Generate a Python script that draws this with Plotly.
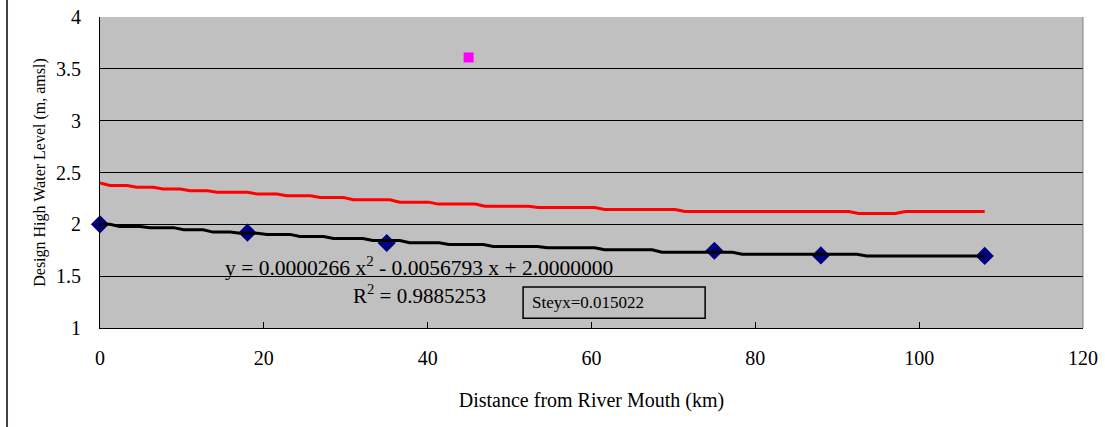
import plotly.graph_objects as go

# ---- data ----
obs_km = [0, 18, 35, 75, 88, 108]
obs_level = [2.00, 1.92, 1.82, 1.745, 1.70, 1.695]

fit_step_km = [1.8, 5.5, 9.6, 13.2, 16.5, 19.8, 23.8, 27.9, 32.7, 37.2, 42.0, 47.4, 54.0, 61.0, 68.0, 77.8, 93.0]
fit_levels = [2.00, 1.98, 1.968, 1.948, 1.925, 1.914, 1.903, 1.883, 1.864, 1.844, 1.822, 1.805, 1.786, 1.774, 1.754, 1.730, 1.711, 1.695]
fit_end_km = 108

dhwl_step_km = [0.6, 3.9, 7.1, 10.4, 13.7, 18.6, 22.2, 26.3, 30.3, 36.0, 40.7, 46.4, 52.9, 61.0, 70.8, 92.0, 97.7]
dhwl_levels = [2.40, 2.375, 2.357, 2.341, 2.324, 2.309, 2.292, 2.276, 2.260, 2.237, 2.214, 2.195, 2.175, 2.162, 2.143, 2.124, 2.104, 2.124]
dhwl_end_km = 108

single_km = [45]
single_level = [3.61]

x_ticks = [0, 20, 40, 60, 80, 100, 120]
y_ticks = [1, 1.5, 2, 2.5, 3, 3.5, 4]


def stepped(steps, levels, end, half=0.6):
    xs, ys = [0], [levels[0]]
    for i, s in enumerate(steps):
        xs += [max(s - half, 0), s + half]
        ys += [levels[i], levels[i + 1]]
    xs.append(end)
    ys.append(levels[-1])
    return xs, ys


fx, fy = stepped(fit_step_km, fit_levels, fit_end_km)
rx, ry = stepped(dhwl_step_km, dhwl_levels, dhwl_end_km)

serif = "Liberation Serif"
fig = go.Figure()
fig.add_trace(go.Scatter(x=obs_km, y=obs_level, mode="markers", cliponaxis=False,
                         marker=dict(symbol="diamond", size=14, color="#000080"),
                         showlegend=False))
fig.add_trace(go.Scatter(x=fx, y=fy, mode="lines",
                         line=dict(color="black", width=3), showlegend=False))
fig.add_trace(go.Scatter(x=rx, y=ry, mode="lines",
                         line=dict(color="#FF0000", width=3), showlegend=False))
fig.add_trace(go.Scatter(x=single_km, y=single_level, mode="markers",
                         marker=dict(symbol="square", size=10, color="#FF00FF"),
                         showlegend=False))

fig.update_layout(
    width=1105, height=427,
    margin=dict(l=100, r=22, t=17, b=99, autoexpand=False),
    paper_bgcolor="white",
    plot_bgcolor="#C0C0C0",
    font=dict(family=serif, color="black"),
    xaxis=dict(range=[0, 120], tickvals=x_ticks, showgrid=False, zeroline=False,
               showline=True, linecolor="black", linewidth=1, automargin=False,
               ticks="inside", ticklen=6, tickcolor="black",
               tickfont=dict(family=serif, size=20), ticklabelstandoff=12,
               title=dict(text="Distance from River Mouth (km)",
                          font=dict(family=serif, size=20), standoff=24)),
    yaxis=dict(range=[1, 4], tickvals=y_ticks, showgrid=True, gridcolor="black",
               gridwidth=1, zeroline=False, showline=True, linecolor="black",
               linewidth=1, ticks="", tickfont=dict(family=serif, size=20),
               ticklabelstandoff=14, automargin=False,
               title=dict(text="Design High Water Level (m, amsl)",
                          font=dict(family=serif, size=16), standoff=6)),
    shapes=[
        dict(type="rect", xref="x", yref="y", x0=51.65, x1=73.87, y0=1.094, y1=1.396,
             line=dict(color="black", width=1.5), fillcolor="rgba(0,0,0,0)"),
        dict(type="line", xref="paper", yref="paper", x0=-0.0946, x1=-0.0946,
             y0=-0.32, y1=1.06, line=dict(color="#404040", width=2)),
        dict(type="line", xref="paper", yref="paper", x0=1, x1=1, y0=0, y1=1,
             line=dict(color="#808080", width=1)),
    ],
    annotations=[
        dict(text="y = 0.0000266 x<sup>2</sup> - 0.0056793 x + 2.0000000",
             x=38.9, y=1.59, xref="x", yref="y", showarrow=False,
             font=dict(family=serif, size=21.5)),
        dict(text="R<sup>2</sup> = 0.9885253", x=39.0, y=1.32, xref="x", yref="y",
             showarrow=False, font=dict(family=serif, size=21)),
        dict(text="Steyx=0.015022", x=52.5, y=1.25, xref="x", yref="y",
             xanchor="left", showarrow=False, font=dict(family=serif, size=17)),
    ],
)

fig.write_html("out.html")
